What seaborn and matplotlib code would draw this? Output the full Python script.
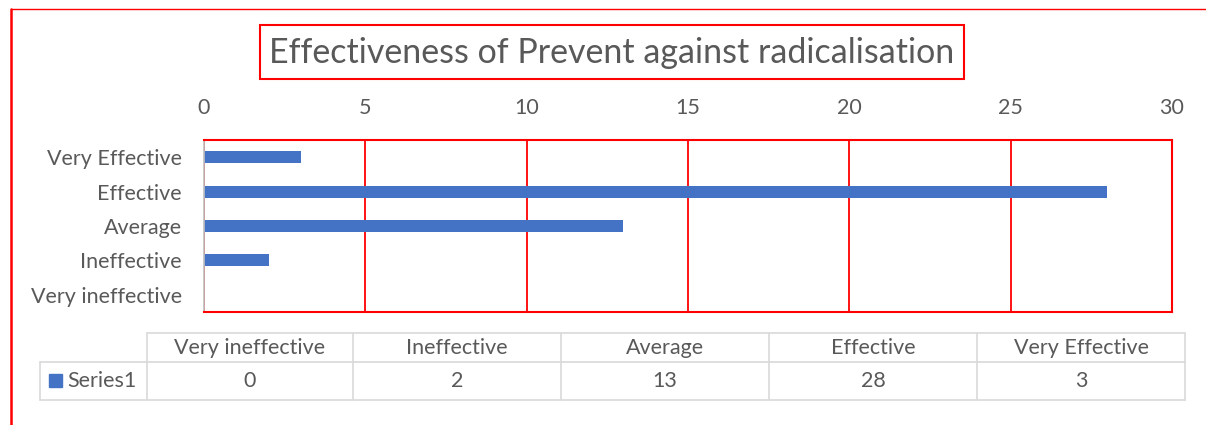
import matplotlib
matplotlib.use("Agg")
import matplotlib.pyplot as plt
import seaborn as sns
import pandas as pd
from matplotlib.patches import Rectangle
from matplotlib.lines import Line2D

# data (top to bottom in the chart)
categories = ["Very Effective", "Effective", "Average", "Ineffective", "Very ineffective"]
counts = [3, 28, 13, 2, 0]
series_name = "Series1"
title = "Effectiveness of Prevent against radicalisation"

df = pd.DataFrame({"category": categories, "count": counts})

sns.set_theme(style="white")
plt.rcParams["font.family"] = ["Lato", "DejaVu Sans"]

W, H = 1206, 425
fig = plt.figure(figsize=(W / 100, H / 100), dpi=100)

def fx(px):
    return px / W

def fy(py):
    return 1 - py / H

fs = 15.5
ax = fig.add_axes([fx(204), fy(312), fx(1172) - fx(204), fy(140) - fy(312)])
blue = "#4472C4"
grey = "#595959"
sns.barplot(data=df, x="count", y="category", order=categories, orient="h",
            color=blue, saturation=1, width=0.35, linewidth=0, ax=ax)

ax.set_xlim(0, 30)
ax.set_xticks(range(0, 31, 5))
ax.xaxis.tick_top()
ax.tick_params(axis="x", length=0, labelsize=fs, colors=grey, pad=16)
ax.tick_params(axis="y", length=0, labelsize=fs, colors=grey, pad=16)
ax.set_xlabel("")
ax.set_ylabel("")
ax.grid(axis="x", color="red", linewidth=1.3)
ax.set_axisbelow(True)
for s in ["top", "right", "bottom"]:
    ax.spines[s].set_color("red")
    ax.spines[s].set_linewidth(1.5)
ax.spines["left"].set_color("#bfbfbf")
ax.spines["left"].set_linewidth(1.2)

# outer frame
fig.add_artist(Line2D([fx(11), fx(11)], [fy(9), 0], color="red", lw=1.8))
fig.add_artist(Line2D([fx(11), 1], [fy(9), fy(9)], color="red", lw=1.0))

# title box
fig.add_artist(Rectangle((fx(260), fy(79)), fx(964) - fx(260), fy(25) - fy(79),
                         fill=False, edgecolor="red", lw=1.5, transform=fig.transFigure))
fig.text(fx(612), fy(53), title, ha="center", va="center", fontsize=24.5, color=grey)

# data table
tcol = "#d9d9d9"
col_edges = [147, 353, 561, 769, 977, 1185]
table_cats = categories[::-1]
table_vals = counts[::-1]
y_top, y_mid, y_bot = 333, 362, 400
fig.add_artist(Line2D([fx(147), fx(1185)], [fy(y_top)] * 2, color=tcol, lw=1.2))
fig.add_artist(Line2D([fx(40), fx(1185)], [fy(y_mid)] * 2, color=tcol, lw=1.2))
fig.add_artist(Line2D([fx(40), fx(1185)], [fy(y_bot)] * 2, color=tcol, lw=1.2))
fig.add_artist(Line2D([fx(40), fx(40)], [fy(y_mid), fy(y_bot)], color=tcol, lw=1.2))
for e in col_edges:
    fig.add_artist(Line2D([fx(e), fx(e)], [fy(y_top), fy(y_bot)], color=tcol, lw=1.2))
for i, (c, v) in enumerate(zip(table_cats, table_vals)):
    xc = (col_edges[i] + col_edges[i + 1]) / 2
    fig.text(fx(xc), fy((y_top + y_mid) / 2), c, ha="center", va="center",
             fontsize=fs, color=grey)
    fig.text(fx(xc), fy((y_mid + y_bot) / 2), str(v), ha="center", va="center",
             fontsize=fs, color=grey)
fig.add_artist(Rectangle((fx(49), fy(387)), fx(13), fy(374) - fy(387),
                         color=blue, transform=fig.transFigure))
fig.text(fx(67), fy(381), series_name, ha="left", va="center", fontsize=fs, color=grey)

fig.savefig("out.png", dpi=100)
